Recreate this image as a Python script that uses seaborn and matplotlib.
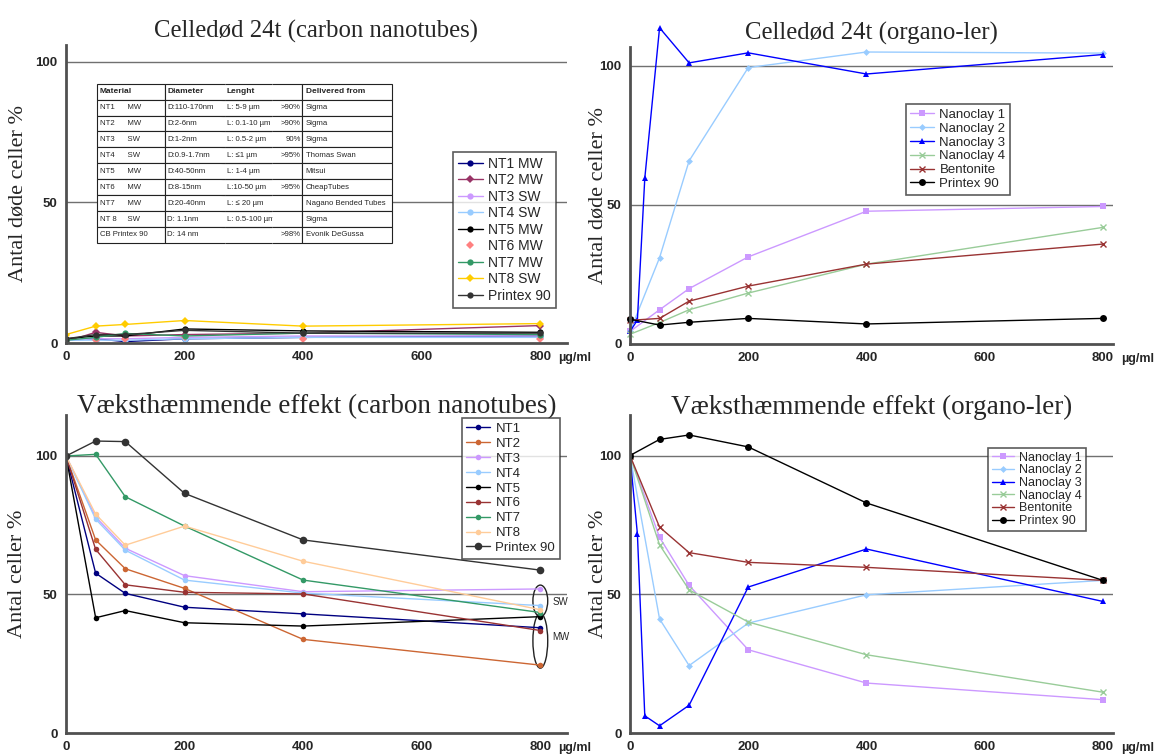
import numpy as np
import pandas as pd
import matplotlib
matplotlib.use("Agg")
import matplotlib.pyplot as plt
import seaborn as sns
from matplotlib.patches import Ellipse, Rectangle

sns.set_style("white")
plt.rcParams['font.family'] = ['Liberation Sans', 'DejaVu Sans']

# ---------------- data ----------------
dose_cnt = [0, 50, 100, 200, 400, 800]
dose_org = [0, 50, 100, 200, 400, 800]
dose_nc3 = [0, 12.5, 25, 50, 100, 200, 400, 800]

cnt_names = ["NT1 MW", "NT2 MW", "NT3 SW", "NT4 SW", "NT5 MW", "NT6 MW", "NT7 MW", "NT8 SW", "Printex 90"]
dead_nt1 = [1.0, 1.5, 0.5, 1.5, 2.0, 2.5]
dead_nt2 = [0.5, 3.8, 2.5, 3.0, 3.5, 6.2]
dead_nt3 = [1.0, 1.5, 1.5, 2.0, 2.5, 2.5]
dead_nt4 = [1.0, 1.0, 1.0, 1.5, 2.0, 2.0]
dead_nt5 = [1.5, 2.5, 2.5, 5.0, 4.3, 3.8]
dead_nt6 = [0.5, 1.0, 1.5, 2.0, 1.5, 1.5]
dead_nt7 = [1.0, 2.0, 3.4, 2.5, 3.5, 3.0]
dead_nt8 = [3.0, 6.0, 6.6, 8.0, 6.0, 6.9]
dead_px = [1.5, 3.0, 3.0, 4.5, 3.5, 3.5]

grow_names = ["NT1", "NT2", "NT3", "NT4", "NT5", "NT6", "NT7", "NT8", "Printex 90"]
grow_nt1 = [100, 57.7, 50.4, 45.4, 43.0, 38.0]
grow_nt2 = [100, 69.7, 59.3, 52.2, 33.8, 24.5]
grow_nt3 = [100, 78.0, 66.7, 56.8, 51.0, 52.0]
grow_nt4 = [100, 77.2, 66.0, 55.2, 50.5, 46.0]
grow_nt5 = [100, 41.6, 44.2, 39.8, 38.6, 42.0]
grow_nt6 = [100, 66.3, 53.5, 50.8, 50.2, 37.0]
grow_nt7 = [100, 100.6, 85.3, 74.7, 55.2, 43.5]
grow_nt8 = [100, 79.0, 67.8, 74.7, 62.0, 44.5]
grow_px = [100, 105.4, 105.2, 86.5, 69.7, 58.8]

org_names = ["Nanoclay 1", "Nanoclay 2", "Nanoclay 3", "Nanoclay 4", "Bentonite", "Printex 90"]
dead_nc1 = [4.5, 12.3, 19.9, 31.3, 47.7, 49.4]
dead_nc2 = [4.5, 31.0, 65.8, 99.3, 104.9, 104.5]
dead_nc3 = [4.5, 8.6, 59.5, 113.6, 101.0, 104.6, 97.0, 104.0]
dead_nc4 = [3.5, 7.7, 12.3, 18.3, 28.7, 41.9]
dead_bent = [8.5, 9.2, 15.4, 20.8, 28.7, 35.9]
dead_opx = [8.9, 6.8, 7.8, 9.2, 7.2, 9.2]

grow_nc1 = [100, 70.5, 53.2, 30.0, 18.0, 12.0]
grow_nc2 = [100, 41.1, 24.3, 39.6, 49.8, 55.0]
grow_nc3 = [100, 71.8, 6.2, 2.6, 10.0, 52.6, 66.3, 47.4]
grow_nc4 = [100, 67.8, 51.6, 40.0, 28.2, 14.7]
grow_bent = [100, 74.2, 65.0, 61.5, 59.7, 55.0]
grow_opx = [100, 105.8, 107.4, 103.1, 82.9, 55.0]

table_rows = [
    ["Material", "Diameter", "Lenght", "", "Delivered from"],
    ["NT1      MW", "D:110-170nm", "L: 5-9 µm", ">90%", "Sigma"],
    ["NT2      MW", "D:2-6nm", "L: 0.1-10 µm", ">90%", "Sigma"],
    ["NT3      SW", "D:1-2nm", "L: 0.5-2 µm", "90%", "Sigma"],
    ["NT4      SW", "D:0.9-1.7nm", "L: ≤1 µm", ">95%", "Thomas Swan"],
    ["NT5      MW", "D:40-50nm", "L: 1-4 µm", "", "Mitsui"],
    ["NT6      MW", "D:8-15nm", "L:10-50 µm", ">95%", "CheapTubes"],
    ["NT7      MW", "D:20-40nm", "L: ≤ 20 µm", "", "Nagano Bended Tubes"],
    ["NT 8     SW", "D: 1.1nm", "L: 0.5-100 µm", "", "Sigma"],
    ["CB Printex 90", "D: 14 nm", "", ">98%", "Evonik DeGussa"],
]

# ---------------- styling ----------------
cnt_colors_top = ["#000080", "#993366", "#cc99ff", "#99ccff", "#000000", "#ff8080", "#339966", "#ffcc00", "#333333"]
cnt_colors_bot = ["#000080", "#cc6633", "#cc99ff", "#99ccff", "#000000", "#993333", "#339966", "#ffcc99", "#333333"]
org_colors = ["#cc99ff", "#99ccff", "#0000ff", "#99cc99", "#993333", "#000000"]
org_markers = ["s", "D", "^", "x", "x", "o"]
org_msize = [5, 3.5, 5, 5, 4, 5]

W, H = 1157, 756
fig = plt.figure(figsize=(W / 100, H / 100), dpi=100)

def pos(l, t, r, b):
    return [l / W, (H - b) / H, (r - l) / W, (b - t) / H]

axTL = fig.add_axes(pos(66, 45, 567, 343))
axTR = fig.add_axes(pos(630, 47, 1113, 344))
axBL = fig.add_axes(pos(66, 415, 567, 733))
axBR = fig.add_axes(pos(630, 415, 1113, 733))

serif = ['Liberation Serif', 'DejaVu Serif']

def style_axes(ax, xmax, ymax, title, ylabel, tsize, ylx, tpad):
    ax.set_xlim(0, xmax)
    ax.set_ylim(0, ymax)
    for s in ["top", "right"]:
        ax.spines[s].set_visible(False)
    for s in ["left", "bottom"]:
        ax.spines[s].set_color("#505050")
        ax.spines[s].set_linewidth(2)
    ax.axhline(50, color="#707070", lw=1, zorder=0)
    ax.axhline(100, color="#707070", lw=1, zorder=0)
    ax.set_xticks([0, 200, 400, 600, 800])
    ax.set_yticks([0, 50, 100])
    ax.tick_params(axis="both", direction="inout", length=6, width=1.2, color="#505050",
                   labelsize=9.5, pad=3)
    for lab in ax.get_xticklabels() + ax.get_yticklabels():
        lab.set_fontweight("bold")
    ax.set_xlabel("")
    ax.set_ylabel(ylabel, family=serif, fontsize=16)
    ax.yaxis.set_label_coords(ylx, 0.5)
    ax.set_title(title, family=serif, fontsize=tsize, pad=tpad)
    ax.annotate("µg/ml", xy=(800, 0), xycoords=("data", "axes fraction"), xytext=(13, -11),
                textcoords="offset points", ha="left", va="center", fontsize=9, fontweight="bold")
    ax.grid(False)

# ---- top left ----
dead_cnt = [dead_nt1, dead_nt2, dead_nt3, dead_nt4, dead_nt5, dead_nt6, dead_nt7, dead_nt8, dead_px]
for name, vals, col in zip(cnt_names, dead_cnt, cnt_colors_top):
    ls = "" if name == "NT6 MW" else "-"
    mk = "D" if name in ("NT2 MW", "NT6 MW", "NT8 SW") else "o"
    sns.lineplot(x=dose_cnt, y=vals, ax=axTL, color=col, marker=mk, markersize=4.5,
                 markeredgewidth=0, lw=1, linestyle=ls, label=name, sort=False)
style_axes(axTL, 845, 106, "Celledød 24t (carbon nanotubes)", "Antal døde celler %", 17.8, -0.077, 5)
leg = axTL.legend(loc="upper left", bbox_to_anchor=(0.772, 0.641), fontsize=10, frameon=True,
                  fancybox=False, edgecolor="#333333", labelspacing=0.18, handlelength=1.8,
                  borderpad=0.35, handletextpad=0.4, borderaxespad=0)
leg.get_frame().set_linewidth(1.2)

tbbox = [0.062, 0.336, 0.589, 0.534]
axTL.add_patch(Rectangle((tbbox[0], tbbox[1]), tbbox[2], tbbox[3], transform=axTL.transAxes,
                         facecolor="white", edgecolor="none", zorder=0.5))
tab = axTL.table(cellText=table_rows, cellLoc="left",
                 colWidths=[68, 60, 47, 30, 90],
                 bbox=tbbox)
tab.set_zorder(1)
tab.auto_set_font_size(False)
tab.set_fontsize(5.6)
for (r, c), cell in tab.get_celld().items():
    cell.set_linewidth(0.8)
    cell.set_edgecolor("#222222")
    cell.PAD = 0.04
    if c == 1:
        cell.visible_edges = "BTL"
    elif c == 2:
        cell.visible_edges = "BT"
    elif c == 3:
        cell.visible_edges = "BTR"
        cell.get_text().set_ha("right")
        cell._loc = "right"
    if r == 0:
        cell.get_text().set_fontweight("bold")
        cell.get_text().set_fontsize(6)

# ---- top right ----
dead_org = [dead_nc1, dead_nc2, dead_nc3, dead_nc4, dead_bent, dead_opx]
for name, vals, col, mk, ms in zip(org_names, dead_org, org_colors, org_markers, org_msize):
    xs = dose_nc3 if name == "Nanoclay 3" else dose_org
    sns.lineplot(x=xs, y=vals, ax=axTR, color=col, marker=mk, markersize=ms, lw=1,
                 markeredgewidth=1 if mk == "x" else 0, markeredgecolor=col, label=name, sort=False)
for ln in axTR.lines:
    ln.set_clip_on(False)
style_axes(axTR, 817, 106.7, "Celledød 24t (organo-ler)", "Antal døde celler %", 17.8, -0.046, 5)
leg = axTR.legend(loc="upper left", bbox_to_anchor=(0.571, 0.808), fontsize=9.5, frameon=True,
                  fancybox=False, edgecolor="#333333", labelspacing=0.12, handlelength=1.8,
                  borderpad=0.35, handletextpad=0.4, borderaxespad=0)
leg.get_frame().set_linewidth(1.2)

# ---- bottom left ----
grow_cnt = [grow_nt1, grow_nt2, grow_nt3, grow_nt4, grow_nt5, grow_nt6, grow_nt7, grow_nt8, grow_px]
for name, vals, col in zip(grow_names, grow_cnt, cnt_colors_bot):
    ms = 5.5 if name == "Printex 90" else 4
    sns.lineplot(x=dose_cnt, y=vals, ax=axBL, color=col, marker="o", markersize=ms,
                 markeredgewidth=0, lw=1, label=name, sort=False)
style_axes(axBL, 845, 114.8, "Væksthæmmende effekt (carbon nanotubes)", "Antal celler %", 19.5, -0.077, 1)
leg = axBL.legend(loc="upper left", bbox_to_anchor=(0.790, 0.99), fontsize=9.5, frameon=True,
                  fancybox=False, edgecolor="#333333", labelspacing=0.2, handlelength=1.8,
                  borderpad=0.35, handletextpad=0.4, borderaxespad=0)
leg.get_frame().set_linewidth(1.2)
axBL.add_patch(Ellipse((800, 47.7), 25, 11.4, fill=False, ec="#222222", lw=1, clip_on=False))
axBL.add_patch(Ellipse((800, 33.3), 25, 19.8, fill=False, ec="#222222", lw=1, clip_on=False))
axBL.text(820, 47.4, "SW", fontsize=7, va="center", ha="left")
axBL.text(820, 34.5, "MW", fontsize=7, va="center", ha="left")

# ---- bottom right ----
grow_org = [grow_nc1, grow_nc2, grow_nc3, grow_nc4, grow_bent, grow_opx]
for name, vals, col, mk, ms in zip(org_names, grow_org, org_colors, org_markers, org_msize):
    xs = dose_nc3 if name == "Nanoclay 3" else dose_org
    sns.lineplot(x=xs, y=vals, ax=axBR, color=col, marker=mk, markersize=ms, lw=1,
                 markeredgewidth=1 if mk == "x" else 0, markeredgecolor=col, label=name, sort=False)
style_axes(axBR, 817, 114.6, "Væksthæmmende effekt (organo-ler)", "Antal celler %", 19.5, -0.046, 1)
leg = axBR.legend(loc="upper left", bbox_to_anchor=(0.741, 0.896), fontsize=9, frameon=True,
                  fancybox=False, edgecolor="#333333", labelspacing=0.05, handlelength=1.8,
                  borderpad=0.3, handletextpad=0.4, borderaxespad=0)
leg.get_frame().set_linewidth(1.2)

fig.savefig("out.png", dpi=100)
